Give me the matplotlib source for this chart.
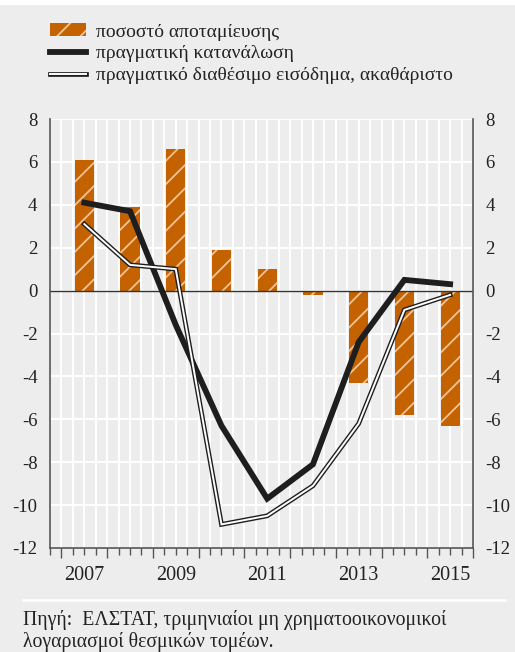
import matplotlib
matplotlib.use("Agg")
import matplotlib.pyplot as plt
from matplotlib.patches import Patch, Rectangle
from matplotlib.lines import Line2D
from matplotlib.legend_handler import HandlerTuple
from matplotlib.ticker import FixedLocator, FuncFormatter

years = [2007, 2008, 2009, 2010, 2011, 2012, 2013, 2014, 2015]
saving_rate = [6.1, 3.9, 6.6, 1.9, 1.0, -0.2, -4.3, -5.8, -6.3]
consumption = [4.1, 3.7, -1.6, -6.3, -9.7, -8.1, -2.4, 0.5, 0.3]
income = [3.1, 1.2, 1.0, -10.9, -10.5, -9.1, -6.2, -0.9, -0.2]
yticks = [8, 6, 4, 2, 0, -2, -4, -6, -8, -10, -12]
labels = ["ποσοστό αποταμίευσης", "πραγματική κατανάλωση",
          "πραγματικό διαθέσιμο εισόδημα, ακαθάριστο"]
source = "Πηγή:  ΕΛΣΤΑΤ, τριμηνιαίοι μη χρηματοοικονομικοί\nλογαριασμοί θεσμικών τομέων."

BG = "#ededed"
ORANGE = "#c46200"
HATCH = "#f0c49a"
INK = "#222222"

# render at 140 dpi so the "//" hatch spacing matches; sizes below are
# given as points-at-100dpi and scaled with S
DPI = 140
S = 100 / DPI
W, H = 515, 652

plt.rcParams['font.family'] = ['Liberation Serif', 'DejaVu Serif']
plt.rcParams['hatch.linewidth'] = 1.3 * S

fig = plt.figure(figsize=(W / DPI, H / DPI), dpi=DPI, facecolor=BG)
ax = fig.add_axes([50 / W, 1 - 548 / H, 423 / W, (548 - 119) / H])
ax.set_facecolor(BG)

xc = [y + 0.5 for y in years]
ax.bar(xc, saving_rate, width=0.42, color=ORANGE, edgecolor=HATCH, linewidth=0,
       hatch="//", zorder=2)
ax.axhline(0, color="#333333", lw=1.0 * S, zorder=3)
ax.plot(xc, consumption, color="#1e1e1e", lw=4.2 * S, solid_joinstyle="miter", zorder=4)
ax.plot(xc, income, color="#1e1e1e", lw=3.4 * S, solid_joinstyle="miter", zorder=5)
ax.plot(xc, income, color="white", lw=1.4 * S, solid_joinstyle="miter", zorder=6)

ax.set_xlim(2006.75, 2016.0)
ax.set_ylim(-12, 8)

# grid
quarters = [2006.75 + 0.25 * i for i in range(38)]
for q in quarters:
    ax.axvline(q, color="white", lw=1.4 * S, zorder=1)
for t in yticks:
    ax.axhline(t, color="white", lw=1.4 * S, zorder=1)

ax.spines["top"].set_visible(False)
for s in ["left", "right", "bottom"]:
    ax.spines[s].set_color("#555555")
    ax.spines[s].set_linewidth(1.2 * S)
    ax.spines[s].set_zorder(7)

ax.set_yticks(yticks)
ax.set_yticklabels([str(t) for t in yticks])
ax.tick_params(axis="y", length=0, labelsize=13.5 * S, pad=9 * S, labelright=True,
               labelcolor=INK)

ax.xaxis.set_major_locator(FixedLocator([y for y in range(2007, 2017)]))
ax.xaxis.set_minor_locator(FixedLocator(quarters))
ax.xaxis.set_major_formatter(FuncFormatter(lambda x, p: ""))
ax.xaxis.set_minor_formatter(FuncFormatter(
    lambda x, p: str(int(x)) if abs(x % 1 - 0.5) < 1e-6 and int(x) % 2 == 1 else ""))
ax.tick_params(axis="x", which="major", length=7 * S, width=1.0 * S, color="#555555")
ax.tick_params(axis="x", which="minor", length=5 * S, width=1.0 * S, color="#555555",
               labelsize=14.5 * S, pad=8 * S, labelcolor=INK)

# legend
h_bar = Patch(facecolor=ORANGE, edgecolor=HATCH, linewidth=0, hatch="//")
h_cons = Line2D([], [], color="#1e1e1e", lw=4.2 * S)
h_inc = (Line2D([], [], color="#1e1e1e", lw=3.4 * S), Line2D([], [], color="white", lw=1.4 * S))
fig.legend([h_bar, h_cons, h_inc], labels, loc="upper left",
           bbox_to_anchor=(32 / W, 1 - 6 / H), frameon=False, fontsize=14 * S,
           handlelength=1.9, handleheight=0.6, handletextpad=0.5, labelspacing=0.25,
           handler_map={tuple: HandlerTuple(ndivide=1)}, labelcolor=INK)

# top white strip and separator line
fig.patches.append(Rectangle((0, 1 - 5 / H), 1, 5 / H, transform=fig.transFigure,
                             facecolor="white", edgecolor="none"))
fig.add_artist(Line2D([23 / W, 505 / W], [1 - 600 / H, 1 - 600 / H], color="white", lw=1.8 * S))
fig.text(23 / W, 1 - 610 / H, source, fontsize=14.2 * S, va="top", ha="left",
         color=INK, linespacing=1.1)

fig.savefig("out.png", dpi=DPI, facecolor=BG)
